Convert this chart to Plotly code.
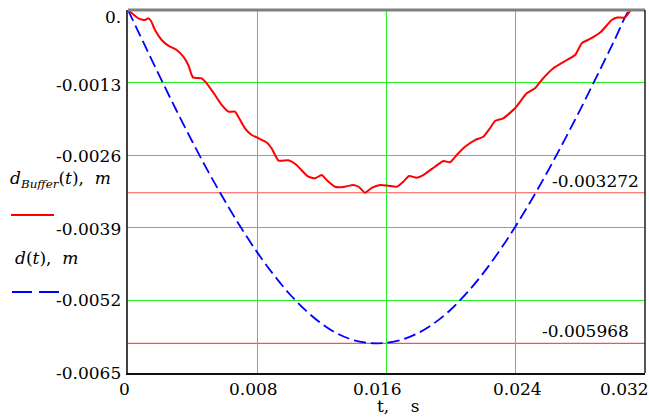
import plotly.graph_objects as go

# ---- data ----
t_buffer = [0, 0.000638, 0.001052, 0.001256, 0.001424, 0.001671, 0.002086, 0.002494, 0.003014,
            0.003423, 0.003732, 0.003943, 0.004042, 0.004562, 0.004871, 0.005385, 0.0058, 0.006208,
            0.006623, 0.006827, 0.007242, 0.007657, 0.008047, 0.008585, 0.008913, 0.009315, 0.009922,
            0.010399, 0.011141, 0.011575, 0.011989, 0.012299, 0.012812, 0.013326, 0.013945, 0.014298,
            0.014669, 0.015084, 0.015598, 0.016112, 0.016631, 0.01704, 0.017393, 0.017869, 0.018278,
            0.019002, 0.019516, 0.019931, 0.020345, 0.020859, 0.021478, 0.021992, 0.022406, 0.022716,
            0.02323, 0.023954, 0.024678, 0.025192, 0.025606, 0.026325, 0.027172, 0.027668, 0.028101,
            0.028596, 0.029277, 0.029939, 0.030267, 0.030762, 0.031115]
d_buffer = [0, -0.000149, -0.000179, -0.000149, -0.000197, -0.000358, -0.000537, -0.000639, -0.000716,
            -0.000836, -0.000985, -0.001164, -0.001212, -0.001223, -0.001313, -0.001522, -0.001701, -0.001821,
            -0.001821, -0.001911, -0.002118, -0.002238, -0.002292, -0.002373, -0.002489, -0.002695, -0.002691,
            -0.002767, -0.002981, -0.003014, -0.002955, -0.003044, -0.003164, -0.003169, -0.003134, -0.003169,
            -0.003272, -0.003187, -0.003134, -0.003148, -0.003164, -0.003074, -0.002972, -0.003003, -0.002955,
            -0.002806, -0.002704, -0.002727, -0.002596, -0.002448, -0.002328, -0.002269, -0.002118, -0.001988,
            -0.001939, -0.00176, -0.001492, -0.001402, -0.001253, -0.001044, -0.000895, -0.000806, -0.000591,
            -0.000519, -0.000389, -0.000179, -0.000134, -0.000134, 0]

t_d = [0, 0.001, 0.002, 0.003, 0.004, 0.005, 0.006, 0.007, 0.008, 0.009, 0.010, 0.011, 0.012, 0.013,
       0.014, 0.015, 0.0155, 0.016, 0.017, 0.018, 0.019, 0.020, 0.021, 0.022, 0.023, 0.024, 0.025,
       0.026, 0.027, 0.028, 0.029, 0.030, 0.031, 0.03113]
d_vals = [0, -0.000608, -0.001212, -0.0018, -0.002368, -0.002912, -0.00342, -0.0039, -0.00434, -0.004735,
          -0.005085, -0.00538, -0.00562, -0.0058, -0.005915, -0.005965, -0.005968, -0.005958, -0.005898,
          -0.005778, -0.005598, -0.005358, -0.005058, -0.004708, -0.004308, -0.003868, -0.003388, -0.002878,
          -0.002338, -0.001778, -0.001198, -0.000608, -0.000018, 0]

min_values = [-0.003272, -0.005968]
min_labels = ["-0.003272", "-0.005968"]

x_ticks = [0, 0.008, 0.016, 0.024, 0.032]
x_tick_labels = ["0", "0.008", "0.016", "0.024", "0.032"]
y_ticks = [0, -0.0013, -0.0026, -0.0039, -0.0052, -0.0065]
y_tick_labels = ["0.", "-0.0013", "-0.0026", "-0.0039", "-0.0052", "-0.0065"]

# ---- styles ----
FONT = "DejaVu Serif"
FS = 17
GREEN = "#22ee22"
x_label_shift = [-4, -4, -9, 2, -21]
y_label_shift = [-7, -2, -1, -1, 0, 0]
min_label_x = [641, 631]  # pixel right edges

L, R, T, B = 128, 4, 10, 44
W, H = 649, 417
PW, PH = W - L - R, H - T - B

def px(xp):
    return (xp - L) / PW

def py(yp):
    return (H - B - yp) / PH

fig = go.Figure()
fig.add_trace(go.Scatter(x=t_d, y=d_vals, mode="lines",
                         line=dict(color="#0000ff", width=1.8, dash="12px,5px", shape="spline", smoothing=1.0),
                         showlegend=False))
fig.add_trace(go.Scatter(x=t_buffer, y=d_buffer, mode="lines",
                         line=dict(color="#ff0000", width=2, shape="spline", smoothing=0.5), showlegend=False))

shapes = []
for v in min_values:
    shapes.append(dict(type="line", xref="paper", yref="y", x0=0, x1=1, y0=v, y1=v,
                       line=dict(color="#ff5050", width=1.2), layer="below"))
shapes.append(dict(type="line", xref="paper", yref="paper", x0=0, x1=1, y0=1, y1=1, line=dict(color="#808080", width=3)))
shapes.append(dict(type="line", xref="paper", yref="paper", x0=1, x1=1, y0=0, y1=1, line=dict(color="#202020", width=1.5)))
shapes.append(dict(type="line", xref="paper", yref="paper", x0=px(11), x1=px(54), y0=py(215), y1=py(215),
                   line=dict(color="#ff0000", width=2)))
shapes.append(dict(type="line", xref="paper", yref="paper", x0=px(12), x1=px(59), y0=py(292), y1=py(292),
                   line=dict(color="#0000ff", width=2, dash="20px,7px")))

txt = dict(family=FONT, size=FS, color="black")
ann = []
for v, lab, sh in zip(x_ticks, x_tick_labels, x_label_shift):
    ann.append(dict(x=v, y=0, xref="x", yref="paper", text=lab, showarrow=False, xanchor="center", yanchor="top",
                    xshift=sh, yshift=-4, font=txt))
for v, lab, sh in zip(y_ticks, y_tick_labels, y_label_shift):
    ann.append(dict(x=0, y=v, xref="paper", yref="y", text=lab, showarrow=False, xanchor="right", yanchor="middle",
                    xshift=-5, yshift=sh, font=txt))
for v, lab, xr in zip(min_values, min_labels, min_label_x):
    ann.append(dict(x=px(xr), y=v, xref="paper", yref="y", text=lab, showarrow=False, xanchor="right",
                    yanchor="bottom", yshift=0, font=txt))
ann.append(dict(x=px(398), y=py(406), xref="paper", yref="paper", text="t,&nbsp;&nbsp;&nbsp;&nbsp;s",
                showarrow=False, xanchor="center", yanchor="middle", font=txt))
ann.append(dict(x=px(8), y=py(180), xref="paper", yref="paper",
                text="<i>d</i><sub><i>Buffer</i></sub>(<i>t</i>),&nbsp;&nbsp;<i>m</i>", showarrow=False,
                xanchor="left", yanchor="middle", font=txt))
ann.append(dict(x=px(13), y=py(258), xref="paper", yref="paper",
                text="<i>d</i>(<i>t</i>),&nbsp;&nbsp;<i>m</i>", showarrow=False,
                xanchor="left", yanchor="middle", font=txt))

fig.update_layout(
    width=W, height=H, margin=dict(l=L, r=R, t=T, b=B, pad=0),
    paper_bgcolor="white", plot_bgcolor="white",
    shapes=shapes, annotations=ann, showlegend=False,
    font=dict(family=FONT),
    xaxis=dict(range=[0, 0.032], tickvals=x_ticks, showticklabels=False, ticks="", showgrid=True,
               gridcolor=GREEN, gridwidth=1, zeroline=False, showline=True, linecolor="#101010", linewidth=2),
    yaxis=dict(range=[-0.0065, 0], tickvals=y_ticks, showticklabels=False, ticks="", showgrid=True,
               gridcolor=GREEN, gridwidth=1, zeroline=False, showline=True, linecolor="#404040", linewidth=2),
)
fig.write_html("out.html")
